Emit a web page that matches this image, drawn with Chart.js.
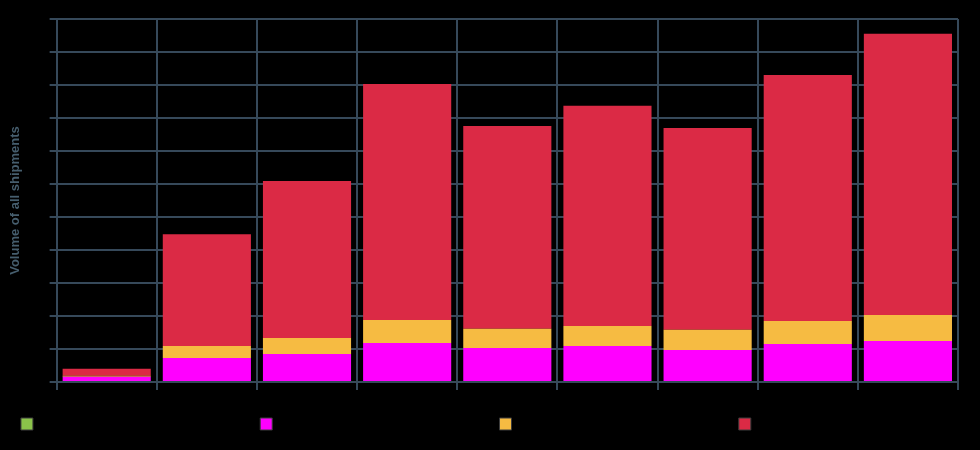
<!DOCTYPE html>
<html><head><meta charset="utf-8">
<script src="https://cdn.jsdelivr.net/npm/chart.js@4/dist/chart.umd.min.js"></script>
<style>html,body{margin:0;padding:0;background:#000;}#wrap{width:980px;height:450px;position:relative;}</style>
</head><body><div id="wrap"><canvas id="c"></canvas></div>
<script>
const categories = ['2015','2016','2017','2018','2019','2020','2021','2022','2023'];
const seriesNames = ['Agriculture','Industry','Transport','Energy'];
const greenValues = [0,0,0,0,0,0,0,0,0];
const magentaValues = [1.6,7.3,8.5,11.8,10.3,10.9,9.7,11.5,12.4];
const orangeValues = [0.3,3.6,4.8,7.0,5.8,6.1,6.1,7.0,7.9];
const redValues = [2.1,33.9,47.6,71.5,61.5,66.7,61.2,74.5,85.2];
const yMin = 0, yMax = 110, yStep = 10;
const yTitle = 'Volume of all shipments';

const colors = ['#8bc34a','#ff00ff','#f6bb42','#db2a45'];
const grid = '#36495a';

new Chart(document.getElementById('c'), {
  type: 'bar',
  data: {
    labels: categories,
    datasets: [greenValues, magentaValues, orangeValues, redValues].map((d, i) => ({
      label: seriesNames[i], data: d, backgroundColor: colors[i], borderWidth: 0,
      categoryPercentage: 0.88, barPercentage: 1, yAxisID: 'y'
    }))
  },
  options: {
    responsive: true, maintainAspectRatio: false, animation: false,
    layout: { padding: { top: 19, right: 0, left: 0, bottom: 10 } },
    plugins: {
      tooltip: { enabled: false },
      legend: {
        position: 'bottom',
        labels: {
          boxWidth: 12, boxHeight: 12, padding: 19, color: '#000',
          font: { family: 'DejaVu Sans Mono', size: 12 },
          generateLabels: (chart) => Chart.defaults.plugins.legend.labels.generateLabels(chart).map(it => Object.assign(it, { text: it.text.padEnd(28), strokeStyle: '#3c3c3c', lineWidth: 1 }))
        }
      }
    },
    scales: {
      x: {
        stacked: true,
        grid: { color: grid, lineWidth: 2, tickLength: 8, offset: true },
        border: { color: grid, width: 2 },
        ticks: { color: '#000', font: { size: 12 } },
        afterFit: (s) => { s.height = 17; }
      },
      y: {
        stacked: true, min: yMin, max: yMax,
        grid: { color: grid, lineWidth: 2, tickLength: 7 },
        border: { color: grid, width: 2 },
        ticks: { stepSize: yStep, color: '#000', font: { size: 12 } },
        title: { display: true, text: yTitle, color: '#465e6e', font: { size: 13, weight: 'bold' }, padding: { top: 8, bottom: 0 } }
      },
      yRight: {
        position: 'right', display: true,
        grid: { display: false }, border: { display: false }, ticks: { display: false },
        afterFit: (s) => { s.width = 22; }
      }
    }
  }
});
</script></body></html>
